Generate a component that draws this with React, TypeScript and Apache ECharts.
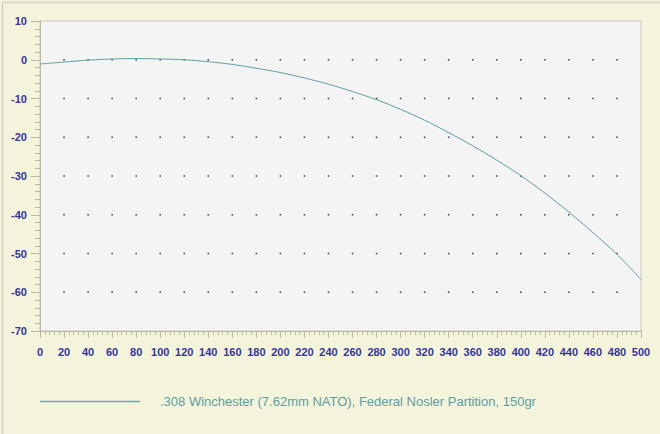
import React, { useEffect, useRef } from "react";
import * as echarts from "echarts";

const seriesName = ".308 Winchester (7.62mm NATO), Federal Nosler Partition, 150gr";
const ranges = [0, 20, 40, 60, 80, 100, 120, 140, 160, 180, 200, 220, 240, 260, 280, 300, 320, 340, 360, 380, 400, 420, 440, 460, 480, 500];
const drops = [-1.1, -0.6, -0.1, 0.2, 0.3, 0.2, 0.0, -0.5, -1.2, -2.2, -3.3, -4.7, -6.3, -8.2, -10.3, -12.8, -15.6, -18.8, -22.2, -25.9, -29.9, -34.4, -39.3, -44.6, -50.2, -56.7];
const dotXs = [20, 40, 60, 80, 100, 120, 140, 160, 180, 200, 220, 240, 260, 280, 300, 320, 340, 360, 380, 400, 420, 440, 460, 480];
const dotYs = [0, -10, -20, -30, -40, -50, -60];

export default function App() {
  const ref = useRef<HTMLDivElement>(null);
  useEffect(() => {
    if (!ref.current) return;
    const chart = echarts.init(ref.current, null, { renderer: "svg" });
    const dots: number[][] = [];
    dotYs.forEach((y) => dotXs.forEach((x) => dots.push([x, y])));
    const labelColor = "#35359a";
    const tickColor = "#bcb9a0";
    const font = "Liberation Sans, Arial, sans-serif";
    chart.setOption({
      animation: false,
      backgroundColor: "#f4f3dc",
      graphic: [
        {
          type: "rect",
          left: 0,
          top: 0,
          shape: { width: 659, height: 433 },
          style: { fill: "none", stroke: "#d6d4c2", lineWidth: 1.5 },
          silent: true,
        },
      ],
      grid: { left: 40, top: 21, right: 19, bottom: 103, show: true, backgroundColor: "#f4f4f4", borderColor: "#c8c8c8", borderWidth: 1 },
      legend: {
        left: 40,
        top: 395,
        padding: 0,
        data: [{ name: seriesName, icon: "rect", itemStyle: { color: "#6aa8a8" } }],
        itemWidth: 100,
        itemHeight: 1.5,
        textStyle: { color: "#5f9ea0", fontSize: 13, fontFamily: font, padding: [0, 0, 0, 15] },
      },
      xAxis: {
        type: "value",
        min: 0,
        max: 500,
        interval: 20,
        axisLine: { show: true, onZero: false, lineStyle: { color: tickColor } },
        axisTick: { show: true, length: 7, lineStyle: { color: tickColor } },
        minorTick: { show: true, splitNumber: 5, length: 4, lineStyle: { color: tickColor } },
        splitLine: { show: false },
        axisLabel: { color: labelColor, fontSize: 11, fontWeight: "bold", fontFamily: font, margin: 15 },
      },
      yAxis: {
        type: "value",
        min: -70,
        max: 10,
        interval: 10,
        axisLine: { show: true, onZero: false, lineStyle: { color: tickColor } },
        axisTick: { show: true, length: 9, lineStyle: { color: tickColor } },
        minorTick: { show: true, splitNumber: 5, length: 5, lineStyle: { color: tickColor } },
        splitLine: { show: false },
        axisLabel: { color: labelColor, fontSize: 11, fontWeight: "bold", fontFamily: font, margin: 13 },
      },
      series: [
        {
          type: "scatter",
          name: "grid",
          data: dots,
          symbol: "rect",
          symbolSize: 1.6,
          itemStyle: { color: "#1c1c40" },
          silent: true,
          z: 1,
        },
        {
          type: "line",
          name: seriesName,
          data: ranges.map((r, i) => [r, drops[i]]),
          smooth: 0.3,
          showSymbol: false,
          lineStyle: { color: "#5f9ea0", width: 1 },
          itemStyle: { color: "#5f9ea0" },
          z: 3,
        },
      ],
    });
    return () => chart.dispose();
  }, []);
  return <div ref={ref} style={{ position: "fixed", left: 0, top: 0, width: 660, height: 434 }} />;
}
